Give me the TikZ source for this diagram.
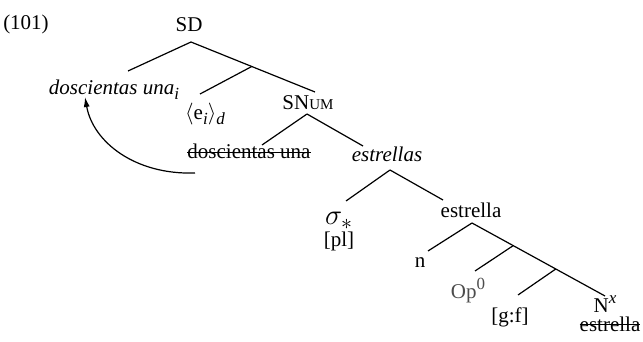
\documentclass[tikz,border=0pt]{standalone}
\usepackage{fontspec}
\setmainfont{Liberation Serif}
\usetikzlibrary{arrows.meta}
\newsavebox\strikebox
\newcommand\strikeout[1]{\sbox\strikebox{#1}\rlap{\rule[0.3em]{\wd\strikebox}{0.45pt}}\usebox\strikebox}
\newcommand\lowr[1]{\raisebox{-0.45ex}{\fontsize{8.5}{9}\selectfont\itshape #1}}
\newcommand\highr[1]{\raisebox{0.85ex}{\fontsize{8.5}{9}\selectfont #1}}
\begin{document}
\begin{tikzpicture}[
    x=0.5pt, y=-0.5pt,
    word/.style={anchor=base, inner sep=0pt, font=\fontsize{10.5}{12}\selectfont},
    branch/.style={line width=0.6pt},
    arrow/.style={-{Latex[length=5pt,width=3pt]}, line width=0.6pt}
]
\useasboundingbox (0,0) rectangle (643,342);
% labels of the tree
\node[word] (num) at (26,30) {(101)};
\node[word] (sd) at (189,32) {SD};
\node[word] (dos) at (114,95) {\textit{doscientas una}\lowr{i}};
\node[word] (e) at (205,120) {$\langle$e\lowr{i}$\rangle$\lowr{d}};
\node[word] (snum) at (308,110) {SN{\fontsize{7.5}{8}\selectfont UM}};
\node[word] (dossd) at (249,159) {\strikeout{doscientas una}};
\node[word] (estrellas) at (387,162) {\textit{estrellas}};
\node[word, font=\fontsize{15}{16}\selectfont] (sigma) at (339,225) {$\sigma_*$};
\node[word] (pl) at (339,246) {[pl]};
\node[word] (estrella) at (471,218) {estrella};
\node[word] (n) at (420,267) {n};
\node[word, text=black!70] (op) at (468,298) {Op\highr{0}};
\node[word] (gf) at (510,322) {[g:f]};
\node[word] (nx) at (605,312) {N\highr{\itshape x}};
\node[word] (est) at (610,331) {\strikeout{estrella}};

% branches
\draw[branch] ([shift={(2,10)}]sd.base) -- ([shift={(14,-24)}]dos.base);
\draw[branch] ([shift={(2,10)}]sd.base) -- coordinate[pos=0.49] (j1) ([shift={(7,-18)}]snum.base);
\draw[branch] (j1) -- ([shift={(-5,-26)}]e.base);
\draw[branch] ([shift={(-1,4)}]snum.base) -- ([shift={(13,-14)}]dossd.base);
\draw[branch] ([shift={(-1,4)}]snum.base) -- ([shift={(-24,-16)}]estrellas.base);
\draw[branch] ([shift={(3,8)}]estrellas.base) -- ([shift={(7,-24)}]sigma.base);
\draw[branch] ([shift={(3,8)}]estrellas.base) -- ([shift={(-28,-18)}]estrella.base);
\draw[branch] ([shift={(1,5)}]estrella.base) -- ([shift={(8,-16)}]n.base);
\draw[branch] ([shift={(1,5)}]estrella.base) -- coordinate[pos=0.31] (j2) coordinate[pos=0.63] (j3) ([shift={(0,-16)}]nx.base);
\draw[branch] (j2) -- ([shift={(7,-27)}]op.base);
\draw[branch] (j3) -- ([shift={(8,-27)}]gf.base);

% movement
\draw[arrow] ([shift={(-54,14)}]dossd.base) .. controls +(-60,2) and +(8,45) .. ([shift={(-29,2)}]dos.base);
\end{tikzpicture}
\end{document}
